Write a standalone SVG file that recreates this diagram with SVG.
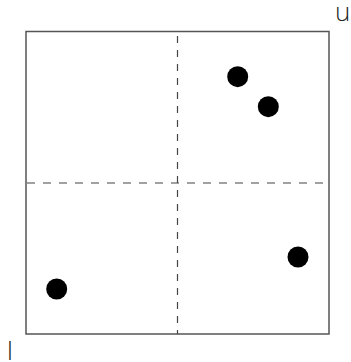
<svg xmlns="http://www.w3.org/2000/svg" width="351" height="362" viewBox="0 0 351 362">
<style>
.box{fill:#fff;stroke:#555;stroke-width:1.5}
.dash{stroke:#444;stroke-width:1.2;fill:none}
.dot{fill:#000}
.lbl{font-family:"Open Sans","DejaVu Sans",sans-serif;font-weight:300;font-size:26px;fill:#222}
</style>
<rect width="351" height="362" fill="#fff"/>
<g id="frame"><rect class="box" x="26" y="31.5" width="303" height="302.5"/></g>
<g id="connectors">
<line class="dash" x1="177.5" y1="32" x2="177.5" y2="334" stroke-dasharray="7,7" stroke-dashoffset="-4"/>
<line class="dash" x1="26" y1="183" x2="329" y2="183" stroke-dasharray="8,8" stroke-dashoffset="-1"/>
</g>
<g id="p1"><circle class="dot" cx="237.7" cy="76.7" r="10.5"/></g>
<g id="p2"><circle class="dot" cx="268.3" cy="106.7" r="10.5"/></g>
<g id="p3"><circle class="dot" cx="298" cy="257" r="10.5"/></g>
<g id="p4"><circle class="dot" cx="56.7" cy="289" r="10.5"/></g>
<g id="label-u"><text class="lbl" x="335" y="21">u</text></g>
<g id="label-l"><text class="lbl" x="7" y="360">l</text></g>
</svg>
